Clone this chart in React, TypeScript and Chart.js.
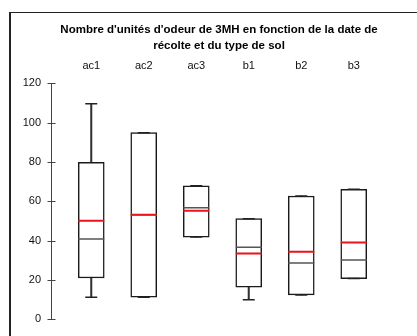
import React, { useEffect, useRef } from "react";
import { Chart, registerables } from "chart.js";

Chart.register(...registerables);

const categories = ["ac1", "ac2", "ac3", "b1", "b2", "b3"];
const mins = [11.2, 11.2, 41.8, 10.0, 12.4, 20.7];
const q1s = [21.0, 11.2, 41.8, 16.3, 12.4, 20.7];
const medians = [40.8, 53.2, 56.7, 36.6, 28.6, 30.2];
const means = [50.1, 53.2, 55.2, 33.5, 34.4, 39.0];
const q3s = [79.8, 94.9, 67.9, 51.2, 62.7, 66.1];
const maxs = [109.6, 94.9, 67.9, 51.2, 62.7, 66.1];
const yTicks = [0, 20, 40, 60, 80, 100, 120];
const titleLines = [
  "Nombre d'unités d'odeur de 3MH en fonction de la date de",
  "récolte et du type de sol",
];

const FONT = "Arial, 'Liberation Sans', sans-serif";

const yAxisPlugin = {
  id: "yAxisLine",
  afterDraw(chart: any) {
    const { ctx, chartArea, scales } = chart;
    const y = scales.y;
    const x = Math.round(chartArea.left - 14) + 0.5;
    ctx.save();
    ctx.strokeStyle = "#444";
    ctx.lineWidth = 1;
    ctx.beginPath();
    ctx.moveTo(x, y.getPixelForValue(yTicks[0]));
    ctx.lineTo(x, y.getPixelForValue(yTicks[yTicks.length - 1]));
    yTicks.forEach((t) => {
      const py = Math.round(y.getPixelForValue(t)) + 0.5;
      ctx.moveTo(x - 4, py);
      ctx.lineTo(x + 4, py);
    });
    ctx.stroke();
    ctx.restore();
  },
};

export default function App() {
  const ref = useRef<HTMLCanvasElement>(null);
  useEffect(() => {
    if (!ref.current) return;
    const chart = new Chart(ref.current, {
      type: "bar",
      data: {
        labels: categories,
        datasets: [
          {
            type: "line",
            data: means,
            showLine: false,
            pointStyle: "line",
            pointRadius: 13,
            pointBorderWidth: 2,
            pointBorderColor: "#e8141c",
            order: 1,
          } as any,
          {
            type: "line",
            data: medians,
            showLine: false,
            pointStyle: "line",
            pointRadius: 13,
            pointBorderWidth: 1.5,
            pointBorderColor: "#555",
            order: 2,
          } as any,
          {
            type: "line",
            data: maxs,
            showLine: false,
            pointStyle: "line",
            pointRadius: 6,
            pointBorderWidth: 1.5,
            pointBorderColor: "#222",
            order: 3,
          } as any,
          {
            type: "line",
            data: mins,
            showLine: false,
            pointStyle: "line",
            pointRadius: 6,
            pointBorderWidth: 1.5,
            pointBorderColor: "#222",
            order: 3,
          } as any,
          {
            type: "bar",
            data: q1s.map((v, i) => [v, q3s[i]]),
            backgroundColor: "#ffffff",
            borderColor: "#1a1a1a",
            borderWidth: 1.5,
            borderSkipped: false,
            barThickness: 26,
            grouped: false,
            order: 4,
          } as any,
          {
            type: "bar",
            data: mins.map((v, i) => [v, maxs[i]]),
            backgroundColor: "#333",
            borderWidth: 0,
            barThickness: 1.4,
            grouped: false,
            order: 5,
          } as any,
        ],
      },
      options: {
        responsive: false,
        animation: false,
        events: [],
        layout: { autoPadding: false, padding: { left: 21, right: 0, top: 11, bottom: 16.7 } },
        plugins: {
          legend: { display: false },
          tooltip: { enabled: false },
          title: {
            display: true,
            text: titleLines,
            color: "#000",
            font: { family: FONT, size: 11.5, weight: "bold", lineHeight: 1.45 },
            padding: { top: 10, bottom: 0 },
          },
        },
        scales: {
          x: {
            type: "category",
            position: "top",
            offset: true,
            grid: { display: false, drawTicks: false },
            border: { display: false },
            afterFit: (s: any) => {
              s.height = 29;
              s.paddingLeft = 0;
              s.paddingRight = 0;
            },
            ticks: {
              color: "#111",
              font: { family: FONT, size: 11 },
              padding: 11,
              maxRotation: 0,
            },
          },
          y: {
            type: "linear",
            position: "left",
            min: 0,
            max: 120,
            grid: { display: false, drawTicks: false },
            border: { display: false },
            afterFit: (s: any) => {
              s.width = 44;
              s.paddingTop = 0;
              s.paddingBottom = 0;
            },
            afterBuildTicks: (s: any) => {
              s.ticks = yTicks.map((v) => ({ value: v }));
            },
            ticks: {
              color: "#111",
              font: { family: FONT, size: 11 },
              padding: 24,
            },
          },
          yRight: {
            type: "linear",
            position: "right",
            min: 0,
            max: 1,
            grid: { display: false, drawTicks: false },
            border: { display: false },
            ticks: { display: false },
            afterFit: (s: any) => {
              s.width = 37;
              s.paddingTop = 0;
              s.paddingBottom = 0;
            },
          },
        },
      },
      plugins: [yAxisPlugin],
    });
    return () => chart.destroy();
  }, []);
  return (
    <div style={{ position: "fixed", left: 0, top: 0, width: 417, height: 336, background: "#fff", overflow: "hidden" }}>
      <div
        style={{
          position: "absolute",
          left: 9,
          top: 12,
          width: 430,
          height: 350,
          borderLeft: "2px solid #222",
          borderTop: "1px solid #222",
        }}
      />
      <canvas ref={ref} width={417} height={336} style={{ position: "absolute", left: 0, top: 0 }} />
    </div>
  );
}
